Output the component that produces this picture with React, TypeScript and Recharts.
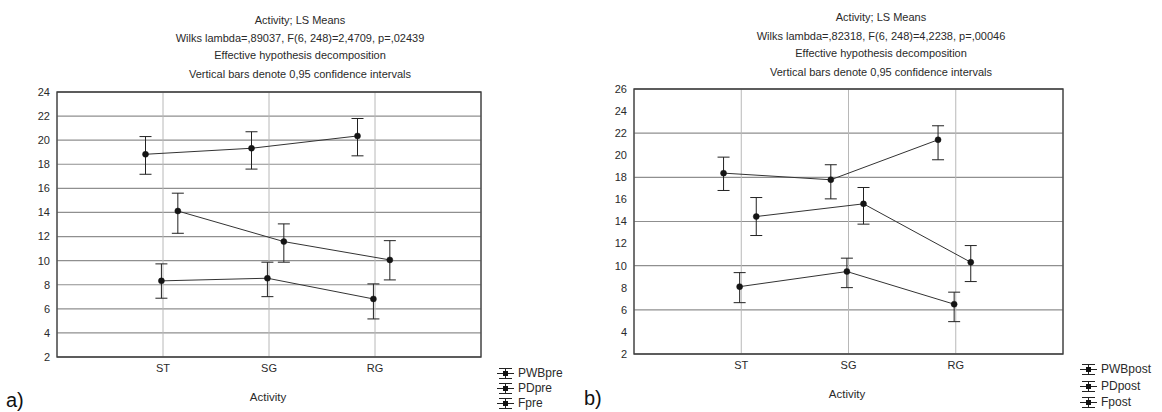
import React from 'react';
import { LineChart, Line, XAxis, YAxis, CartesianGrid, ErrorBar, ReferenceArea } from 'recharts';

// ---------- data ----------
const categories = ['ST', 'SG', 'RG'];
const yTicksPre = [2, 4, 6, 8, 10, 12, 14, 16, 18, 20, 22, 24];
const yTicksPost = [2, 4, 6, 8, 10, 12, 14, 16, 18, 20, 22, 24, 26];

const titlePre = [
  'Activity; LS Means',
  'Wilks lambda=,89037, F(6, 248)=2,4709, p=,02439',
  'Effective hypothesis decomposition',
  'Vertical bars denote 0,95 confidence intervals',
];
const titlePost = [
  'Activity; LS Means',
  'Wilks lambda=,82318, F(6, 248)=4,2238, p=,00046',
  'Effective hypothesis decomposition',
  'Vertical bars denote 0,95 confidence intervals',
];

const namesPre = ['PWBpre', 'PDpre', 'Fpre'];
const namesPost = ['PWBpost', 'PDpost', 'Fpost'];

// pre (a)
const pwbPreMean = [18.83, 19.33, 20.35];
const pwbPreLow = [17.17, 17.6, 18.7];
const pwbPreHigh = [20.3, 20.7, 21.8];
const pdPreMean = [14.12, 11.58, 10.06];
const pdPreLow = [12.27, 9.87, 8.4];
const pdPreHigh = [15.6, 13.05, 11.66];
const fPreMean = [8.32, 8.54, 6.82];
const fPreLow = [6.88, 7.01, 5.16];
const fPreHigh = [9.73, 9.87, 8.07];

// post (b)
const pwbPostMean = [18.38, 17.78, 21.4];
const pwbPostLow = [16.81, 16.05, 19.59];
const pwbPostHigh = [19.83, 19.14, 22.67];
const pdPostMean = [14.45, 15.6, 10.31];
const pdPostLow = [12.73, 13.76, 8.56];
const pdPostHigh = [16.17, 17.08, 11.82];
const fPostMean = [8.1, 9.47, 6.51];
const fPostLow = [6.65, 8.01, 4.93];
const fPostHigh = [9.37, 10.68, 7.6];

// horizontal spread of the series around each category (layout)
const seriesOffsets = [-0.165, 0.14, -0.015];

type Row = { x: number; y: number; err: [number, number] };
function buildRows(mean: number[], low: number[], high: number[], offset: number): Row[] {
  return mean.map((m, i) => ({ x: i + 1 + offset, y: m, err: [m - low[i], high[i] - m] }));
}

const seriesPre = [
  buildRows(pwbPreMean, pwbPreLow, pwbPreHigh, seriesOffsets[0]),
  buildRows(pdPreMean, pdPreLow, pdPreHigh, seriesOffsets[1]),
  buildRows(fPreMean, fPreLow, fPreHigh, seriesOffsets[2]),
];
const seriesPost = [
  buildRows(pwbPostMean, pwbPostLow, pwbPostHigh, seriesOffsets[0]),
  buildRows(pdPostMean, pdPostLow, pdPostHigh, seriesOffsets[1]),
  buildRows(fPostMean, fPostLow, fPostHigh, seriesOffsets[2]),
];

// ---------- style ----------
const FONT = '"Liberation Sans", Arial, Helvetica, sans-serif';
const TEXT = '#2a2a2a';

function LegendGlyph() {
  return (
    <svg width={17} height={13} style={{ display: 'block' }}>
      <line x1={2} y1={1.5} x2={15} y2={1.5} stroke="#222" strokeWidth={1} />
      <line x1={2} y1={11.5} x2={15} y2={11.5} stroke="#222" strokeWidth={1} />
      <line x1={0} y1={6.5} x2={17} y2={6.5} stroke="#222" strokeWidth={1} />
      <line x1={8.5} y1={1.5} x2={8.5} y2={11.5} stroke="#222" strokeWidth={1} />
      <rect x={6} y={4} width={5} height={5} fill="#111" />
    </svg>
  );
}

type PanelProps = {
  left: number;
  width: number;
  margin: { top: number; right: number; bottom: number; left: number };
  yTicks: number[];
  series: Row[][];
  names: string[];
  titles: string[];
  titleCenter: number;
  titleYs: number[];
  xLabelCenter: number;
  xLabelY: number;
  legendX: number;
  legendYs: number[];
  letter: string;
  letterX: number;
  letterY: number;
};

function Panel(p: PanelProps) {
  const yMin = p.yTicks[0];
  const yMax = p.yTicks[p.yTicks.length - 1];
  return (
    <>
      <div style={{ position: 'absolute', left: p.left, top: 0 }}>
        <LineChart width={p.width} height={412} margin={p.margin}>
          <CartesianGrid vertical={false} stroke="#8f8f8f" strokeWidth={1.2} />
          <CartesianGrid horizontal={false} stroke="#b8b8b8" strokeWidth={1} />
          <XAxis
            type="number"
            dataKey="x"
            domain={[0, 4]}
            ticks={[1, 2, 3]}
            tickFormatter={(v: number) => categories[v - 1] ?? ''}
            axisLine={false}
            tickLine={false}
            tickSize={5}
            tickMargin={2}
            height={20}
            tick={{ fontSize: 11, fill: TEXT, fontFamily: FONT }}
          />
          <YAxis
            type="number"
            domain={[yMin, yMax]}
            ticks={p.yTicks}
            axisLine={false}
            tickLine={false}
            tickSize={5}
            tickMargin={2}
            width={30}
            tick={{ fontSize: 11, fill: TEXT, fontFamily: FONT }}
          />
          <ReferenceArea x1={0} x2={4} y1={yMin} y2={yMax} fill="none" fillOpacity={0} stroke="#3a3a3a" strokeWidth={1.3} />
          {p.series.map((rows, i) => (
            <Line
              key={p.names[i]}
              data={rows}
              dataKey="y"
              name={p.names[i]}
              type="linear"
              stroke="#333"
              strokeWidth={1}
              dot={{ r: 3, fill: '#151515', stroke: '#151515', strokeWidth: 0.5 }}
              isAnimationActive={false}
            >
              <ErrorBar dataKey="err" direction="y" width={6} stroke="#222" strokeWidth={1} isAnimationActive={false} />
            </Line>
          ))}
        </LineChart>
      </div>
      {p.titles.map((t, i) => (
        <div
          key={i}
          style={{
            position: 'absolute',
            left: p.titleCenter - 200,
            width: 400,
            top: p.titleYs[i] - 7,
            height: 14,
            lineHeight: '14px',
            textAlign: 'center',
            fontFamily: FONT,
            fontSize: 11,
            color: TEXT,
            whiteSpace: 'nowrap',
          }}
        >
          {t}
        </div>
      ))}
      <div
        style={{
          position: 'absolute',
          left: p.xLabelCenter - 60,
          width: 120,
          top: p.xLabelY - 7,
          height: 14,
          lineHeight: '14px',
          textAlign: 'center',
          fontFamily: FONT,
          fontSize: 11.5,
          color: TEXT,
        }}
      >
        Activity
      </div>
      {p.names.map((n, i) => (
        <div
          key={n}
          style={{
            position: 'absolute',
            left: p.legendX,
            top: p.legendYs[i] - 7,
            height: 14,
            display: 'flex',
            alignItems: 'center',
            gap: 4,
            fontFamily: FONT,
            fontSize: 12,
            color: TEXT,
            whiteSpace: 'nowrap',
          }}
        >
          <LegendGlyph />
          <span>{n}</span>
        </div>
      ))}
      <div
        style={{
          position: 'absolute',
          left: p.letterX,
          top: p.letterY - 12,
          height: 24,
          lineHeight: '24px',
          fontFamily: FONT,
          fontSize: 20,
          color: '#111',
        }}
      >
        {p.letter}
      </div>
    </>
  );
}

export default function App() {
  return (
    <div
      style={{
        position: 'absolute',
        left: 0,
        top: 0,
        width: 1162,
        height: 412,
        background: '#ffffff',
        overflow: 'hidden',
      }}
    >
      <Panel
        left={0}
        width={580}
        margin={{ top: 92, right: 99, bottom: 35, left: 27 }}
        yTicks={yTicksPre}
        series={seriesPre}
        names={namesPre}
        titles={titlePre}
        titleCenter={300}
        titleYs={[20, 38, 55, 74]}
        xLabelCenter={268}
        xLabelY={397}
        legendX={497}
        legendYs={[373, 388, 403]}
        letter="a)"
        letterX={6}
        letterY={400}
      />
      <Panel
        left={580}
        width={582}
        margin={{ top: 89, right: 99, bottom: 38, left: 24 }}
        yTicks={yTicksPost}
        series={seriesPost}
        names={namesPost}
        titles={titlePost}
        titleCenter={881}
        titleYs={[17, 36, 53, 72]}
        xLabelCenter={847}
        xLabelY={394}
        legendX={1080}
        legendYs={[369, 386, 402]}
        letter="b)"
        letterX={584}
        letterY={398}
      />
    </div>
  );
}
